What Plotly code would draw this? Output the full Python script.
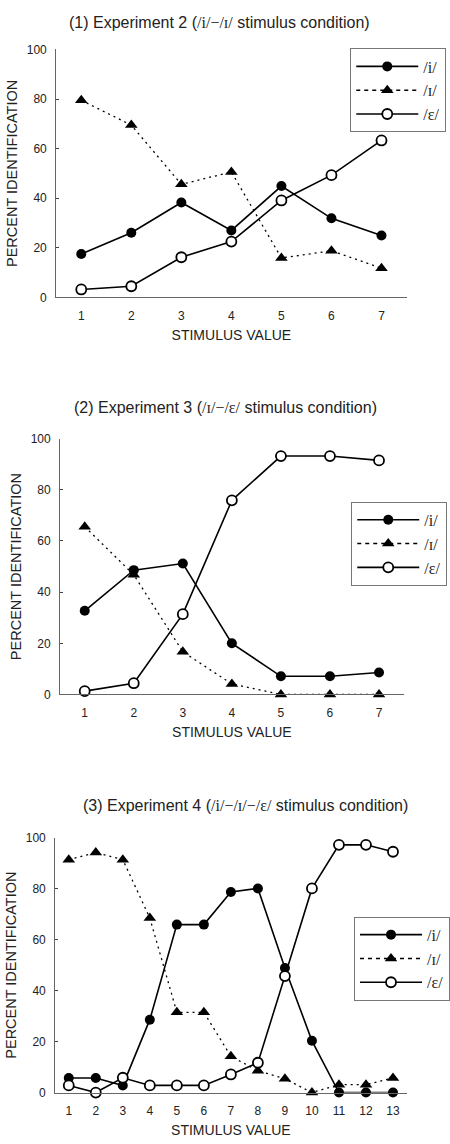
import plotly.graph_objects as go

# ---------------- data ----------------
x7 = [1, 2, 3, 4, 5, 6, 7]
x13 = [1, 2, 3, 4, 5, 6, 7, 8, 9, 10, 11, 12, 13]

series_names = ["/i/", "/ɪ/", "/ɛ/"]

# Panel 1: Experiment 2
p1_i = [17.5, 26.1, 38.3, 27.0, 44.9, 31.9, 25.0]
p1_I = [79.5, 69.5, 45.6, 50.6, 15.9, 18.8, 11.8]
p1_e = [3.2, 4.5, 16.2, 22.5, 39.1, 49.3, 63.3]

# Panel 2: Experiment 3
p2_i = [32.7, 48.6, 51.2, 20.0, 7.1, 7.1, 8.6]
p2_I = [65.6, 46.8, 16.7, 4.1, 0, 0, 0]
p2_e = [1.3, 4.4, 31.4, 75.9, 93.2, 93.2, 91.5]

# Panel 3: Experiment 4
p3_i = [5.7, 5.7, 2.8, 28.6, 65.9, 65.9, 78.7, 80.1, 48.9, 20.3, 0, 0, 0]
p3_I = [91.4, 94.2, 91.4, 68.5, 31.5, 31.5, 14.2, 8.6, 5.4, 0, 3.1, 3.1, 5.7]
p3_e = [2.8, 0, 5.8, 2.8, 2.8, 2.8, 7.1, 11.7, 45.7, 80.1, 97.2, 97.2, 94.5]

SERIF = "Liberation Serif, serif"
FONT = "Liberation Sans, Arial, sans-serif"

def ipa(s):
    return "<span style='font-family:Liberation Serif'>" + s + "</span>"

titles = [
    "(1) Experiment 2 (" + ipa("/i/−/ɪ/") + " stimulus condition)",
    "(2) Experiment 3 (" + ipa("/ɪ/−/ɛ/") + " stimulus condition)",
    "(3) Experiment 4 (" + ipa("/i/−/ɪ/−/ɛ/") + " stimulus condition)",
]
x_title = "STIMULUS VALUE"
y_title = "PERCENT IDENTIFICATION"
y_ticks = [0, 20, 40, 60, 80, 100]

# ---------------- layout geometry ----------------
W, H = 450, 1144
def px(v):
    return v / W
def py(v):
    return 1 - v / H

panels = [
    dict(x=x7, data=[p1_i, p1_I, p1_e], xr=[0.5, 7.5],
         xd=[px(57), px(412)], yd=[py(294), py(43)],
         leg=(px(355), py(42)), title=(px(68), py(16))),
    dict(x=x7, data=[p2_i, p2_I, p2_e], xr=[0.5, 7.5],
         xd=[px(61), px(409)], yd=[py(696), py(437)],
         leg=(px(356), py(501)), title=(px(73), py(405))),
    dict(x=x13, data=[p3_i, p3_I, p3_e], xr=[0.5, 13.5],
         xd=[px(56), px(412)], yd=[py(1099), py(841)],
         leg=(px(359), py(921)), title=(px(82), py(808))),
]

marker_styles = [
    dict(symbol="circle", size=10, color="black"),
    dict(symbol="triangle-up", size=11, color="black"),
    dict(symbol="circle", size=10, color="white", line=dict(color="black", width=1.8)),
]
line_styles = [
    dict(color="black", width=1.6),
    dict(color="black", width=1.3, dash="2px,4px"),
    dict(color="black", width=1.6),
]
legend_line_styles = [
    dict(color="black", width=1.6),
    dict(color="black", width=1.6, dash="4px,4px"),
    dict(color="black", width=1.6),
]

fig = go.Figure()

for k, p in enumerate(panels):
    sfx = "" if k == 0 else str(k + 1)
    legname = "legend" + sfx
    for s, (name, ys) in enumerate(zip(series_names, p["data"])):
        fig.add_trace(go.Scatter(
            x=p["x"], y=ys, name=name, xaxis="x" + sfx, yaxis="y" + sfx,
            mode="lines+markers", line=line_styles[s], marker=marker_styles[s],
            showlegend=False, cliponaxis=False))
        # legend entry (no data drawn)
        fig.add_trace(go.Scatter(
            x=[None], y=[None], name=name, xaxis="x" + sfx, yaxis="y" + sfx,
            mode="lines+markers", line=legend_line_styles[s], marker=marker_styles[s],
            legend=legname, showlegend=True))
    fig.update_layout(**{
        "xaxis" + sfx: dict(
            domain=p["xd"], anchor="y" + sfx, range=p["xr"],
            tickmode="array", tickvals=p["x"], ticks="", ticklabelstandoff=7,
            showline=True, linecolor="#666", linewidth=1.2,
            showgrid=False, zeroline=False,
            tickfont=dict(size=12, color="#222", family=FONT),
            title=dict(text=x_title, font=dict(size=14, color="#222", family=FONT), standoff=8),
        ),
        "yaxis" + sfx: dict(
            domain=p["yd"], anchor="x" + sfx, range=[0, 100],
            tickmode="array", tickvals=y_ticks, ticks="inside", ticklen=3,
            ticklabelstandoff=6,
            tickcolor="#444", showline=True, linecolor="#666", linewidth=1.2,
            showgrid=False, zeroline=False,
            tickfont=dict(size=12, color="#222", family=FONT),
            title=dict(text=y_title, font=dict(size=14.5, color="#222", family=FONT), standoff=5),
        ),
        legname: dict(
            x=p["leg"][0], y=p["leg"][1], xanchor="left", yanchor="top",
            bgcolor="white", bordercolor="#777", borderwidth=1,
            font=dict(size=16, color="#222", family=SERIF),
            itemwidth=62, tracegroupgap=0,
        ),
    })
    fig.add_annotation(
        x=p["title"][0], y=p["title"][1], xref="paper", yref="paper",
        xanchor="left", yanchor="middle", showarrow=False,
        text=titles[k], font=dict(size=16, color="#222", family=FONT))

fig.update_layout(
    width=W, height=H, margin=dict(l=0, r=0, t=0, b=0),
    paper_bgcolor="white", plot_bgcolor="white",
    showlegend=True,
)

fig.write_html("out.html", config={"displayModeBar": False},
               post_script="document.body.style.margin='0';")
